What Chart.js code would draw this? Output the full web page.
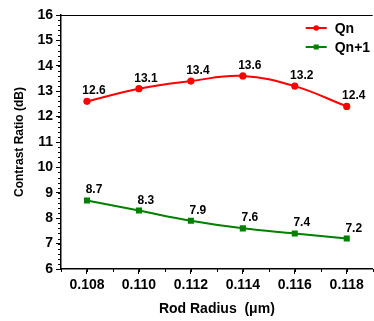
<!DOCTYPE html>
<html>
<head>
<meta charset="utf-8">
<script src="https://cdn.jsdelivr.net/npm/chart.js@4.4.1/dist/chart.umd.min.js"></script>
<style>
  html, body { margin: 0; padding: 0; overflow: hidden; background: #fff; }
  canvas { display: block; }
</style>
</head>
<body>
<canvas id="chart" width="377" height="321"></canvas>
<script>
const radius = [0.108, 0.110, 0.112, 0.114, 0.116, 0.118];
const qn = [12.6, 13.1, 13.4, 13.6, 13.2, 12.4];
const qn1 = [8.7, 8.3, 7.9, 7.6, 7.4, 7.2];
const xTicks = [0.108, 0.110, 0.112, 0.114, 0.116, 0.118];
const yTicks = [6, 7, 8, 9, 10, 11, 12, 13, 14, 15, 16];
const seriesNames = ["Qn", "Qn+1"];

const FONT = "'Liberation Sans', Arial, sans-serif";

// minor ticks, top frame, value labels and the legend inside the plot
const extras = {
  id: "extras",
  afterDraw(chart) {
    const c = chart.ctx;
    const area = chart.chartArea;
    const xs = chart.scales.x, ys = chart.scales.y;
    c.save();
    c.strokeStyle = "#000";
    c.lineWidth = 1;
    c.beginPath();
    c.moveTo(area.left, area.top + 0.5);
    c.lineTo(area.right, area.top + 0.5);
    c.stroke();

    c.beginPath();
    for (let v = xs.min; v <= xs.max + 1e-9; v += 0.001) {
      const px = Math.round(xs.getPixelForValue(v)) + 0.5;
      c.moveTo(px, area.bottom);
      c.lineTo(px, area.bottom + 3);
    }
    for (let v = ys.min; v <= ys.max + 1e-9; v += 0.2) {
      const py = Math.round(ys.getPixelForValue(v)) + 0.5;
      c.moveTo(area.left, py);
      c.lineTo(area.left - 3, py);
    }
    c.stroke();

    c.font = "bold 12px " + FONT;
    c.fillStyle = "#000";
    c.textAlign = "center";
    c.textBaseline = "alphabetic";
    chart.data.datasets.forEach((ds, i) => {
      chart.getDatasetMeta(i).data.forEach((pt, j) => {
        c.fillText(ds.data[j].y.toFixed(1), pt.x + 7, pt.y - 7);
      });
    });

    c.font = "bold 14px " + FONT;
    c.textAlign = "left";
    c.textBaseline = "middle";
    chart.data.datasets.forEach((ds, i) => {
      const y = area.top + 13 + i * 19;
      const x0 = area.right - 67, x1 = area.right - 46;
      c.strokeStyle = ds.borderColor;
      c.lineWidth = 2;
      c.beginPath();
      c.moveTo(x0, y);
      c.lineTo(x1, y);
      c.stroke();
      c.fillStyle = ds.borderColor;
      const mx = (x0 + x1) / 2;
      if (ds.pointStyle === "rect") {
        c.fillRect(mx - 2.5, y - 2.5, 5, 5);
      } else {
        c.beginPath();
        c.arc(mx, y, 2.8, 0, Math.PI * 2);
        c.fill();
      }
      c.fillStyle = "#000";
      c.fillText(ds.label, area.right - 38, y + 1);
    });
    c.restore();
  }
};

new Chart(document.getElementById("chart"), {
  type: "line",
  data: {
    datasets: [
      {
        label: seriesNames[0],
        data: radius.map((r, i) => ({ x: r, y: qn[i] })),
        borderColor: "#ff0000",
        backgroundColor: "#ff0000",
        borderWidth: 2,
        pointStyle: "circle",
        pointRadius: 3.6,
        pointBorderWidth: 0,
        tension: 0.4,
      },
      {
        label: seriesNames[1],
        data: radius.map((r, i) => ({ x: r, y: qn1[i] })),
        borderColor: "#008000",
        backgroundColor: "#008000",
        borderWidth: 2,
        pointStyle: "rect",
        pointRadius: 4.3,
        pointBorderWidth: 0,
        tension: 0.4,
      },
    ],
  },
  options: {
    responsive: false,
    animation: false,
    layout: { padding: { top: 15, right: 0, left: 0, bottom: 0 } },
    plugins: { legend: { display: false }, tooltip: { enabled: false } },
    scales: {
      x: {
        type: "linear",
        min: 0.107,
        max: 0.119,
        afterBuildTicks: (s) => { s.ticks = xTicks.map((v) => ({ value: v })); },
        afterFit: (s) => { s.height = 52; },
        ticks: {
          callback: (v) => v.toFixed(3),
          font: { family: FONT, size: 14, weight: "bold" },
          color: "#000",
          padding: 3,
          maxRotation: 0,
          autoSkip: false,
        },
        grid: { drawOnChartArea: false, tickLength: 5, tickColor: "#000", tickWidth: 1 },
        border: { color: "#000", width: 1.5 },
        title: {
          display: true,
          text: "Rod Radius  (\u03bcm)",
          color: "#000",
          font: { family: FONT, size: 14, weight: "bold" },
          padding: { top: 0, bottom: 3 },
        },
      },
      y: {
        min: 6,
        max: 16,
        afterBuildTicks: (s) => { s.ticks = yTicks.map((v) => ({ value: v })); },
        afterFit: (s) => { s.width = 61; },
        ticks: {
          font: { family: FONT, size: 14, weight: "bold" },
          color: "#000",
          padding: 3,
        },
        grid: { drawOnChartArea: false, tickLength: 5, tickColor: "#000", tickWidth: 1 },
        border: { color: "#000", width: 1.5 },
        title: {
          display: true,
          text: "Contrast Ratio (dB)",
          color: "#000",
          font: { family: FONT, size: 12, weight: "bold" },
          padding: { top: 12, bottom: 0 },
        },
      },
    },
  },
  plugins: [extras],
});
</script>
</body>
</html>
